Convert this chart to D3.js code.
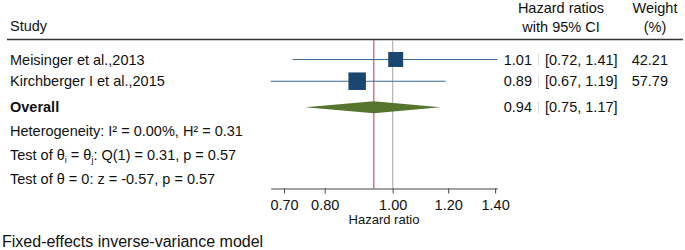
<!DOCTYPE html>
<html>
<head>
<meta charset="utf-8">
<script src="https://cdn.jsdelivr.net/npm/d3@7"></script>
<style>
  body { margin: 0; background: #fff; }
  text { font-family: "Liberation Sans", Arial, Helvetica, sans-serif; fill: #111; }
</style>
</head>
<body>
<div id="general"></div>
<script>
const w = 685, h = 250;

// data
const studies = ["Meisinger et al.,2013", "Kirchberger I et al.,2015"];
const hr = [1.01, 0.89];
const lo = [0.72, 0.67];
const hi = [1.41, 1.19];
const weights = [42.21, 57.79];
const overall = { hr: 0.94, lo: 0.75, hi: 1.17 };
const ticks = [0.7, 0.8, 1.0, 1.2, 1.4];
const stats = ["Heterogeneity: I² = 0.00%, H² = 0.31", "Q(1) = 0.31, p = 0.57", "Test of θ = 0: z = -0.57, p = 0.57"];

const fs = 14.5;
const colBlue = "#1a476f", colLine = "#3b6b98", colGreen = "#55752f", colRed = "#d9506a";

const svg = d3.select("#general").append("svg").attr("width", w).attr("height", h);

const x = d3.scaleLog().domain([0.67, 1.41]).range([270.7, 497.3]);
const y = d3.scaleLinear().domain([0, 1]).range([59.5, 81.2]);
const size = d3.scaleSqrt().domain([0, d3.max(weights)]).range([0, 17.5]);

const rows = studies.map((s, i) => ({ s, hr: hr[i], lo: lo[i], hi: hi[i], w: weights[i], i }));
const yOverall = y(2.2);
const axisY = 188.5;
const fmt = d3.format(".2f");

// header
svg.append("text").attr("x", 10).attr("y", 31).attr("font-size", fs).text("Study");
svg.append("text").attr("x", 561).attr("y", 13).attr("font-size", fs).attr("text-anchor", "middle").text("Hazard ratios");
svg.append("text").attr("x", 561).attr("y", 32).attr("font-size", fs).attr("text-anchor", "middle").text("with 95% CI");
svg.append("text").attr("x", 655).attr("y", 13).attr("font-size", fs).attr("text-anchor", "middle").text("Weight");
svg.append("text").attr("x", 655).attr("y", 32).attr("font-size", fs).attr("text-anchor", "middle").text("(%)");
svg.append("line").attr("x1", 7).attr("x2", 683).attr("y1", 39.5).attr("y2", 39.5)
  .attr("stroke", "#333").attr("stroke-width", 1.4);

// reference lines
svg.append("line").attr("x1", x(1)).attr("x2", x(1)).attr("y1", 40).attr("y2", axisY)
  .attr("stroke", "#b4b4b4").attr("stroke-width", 1.2);
svg.append("line").attr("x1", x(overall.hr)).attr("x2", x(overall.hr)).attr("y1", 40).attr("y2", axisY)
  .attr("stroke", colRed).attr("stroke-width", 1.2);

// study rows
const g = svg.selectAll("g.row").data(rows).join("g").attr("class", "row")
  .attr("transform", d => `translate(0,${y(d.i)})`);

g.append("text").attr("x", 10).attr("y", 5).attr("font-size", fs).text(d => d.s);
g.append("line").attr("x1", d => x(d.lo)).attr("x2", d => x(d.hi))
  .attr("stroke", colLine).attr("stroke-width", 1.1);
g.append("rect")
  .attr("x", d => x(d.hr) - size(d.w) / 2).attr("y", d => -size(d.w) / 2)
  .attr("width", d => size(d.w)).attr("height", d => size(d.w))
  .attr("fill", colBlue);
g.append("text").attr("x", 532).attr("y", 5).attr("font-size", fs).attr("text-anchor", "end")
  .text(d => fmt(d.hr));
g.append("text").attr("x", 545).attr("y", 5).attr("font-size", fs)
  .text(d => `[${fmt(d.lo)}, ${fmt(d.hi)}]`);
g.append("text").attr("x", 668).attr("y", 5).attr("font-size", fs).attr("text-anchor", "end")
  .text(d => fmt(d.w));
g.append("line").attr("x1", 538.5).attr("x2", 538.5).attr("y1", -6).attr("y2", 6)
  .attr("stroke", "#ddd");

// overall
svg.append("text").attr("x", 10).attr("y", yOverall + 5).attr("font-size", fs).attr("font-weight", "bold").text("Overall");
svg.append("path")
  .attr("d", `M${x(overall.lo)},${yOverall} L${x(overall.hr)},${yOverall - 6} L${x(overall.hi)},${yOverall} L${x(overall.hr)},${yOverall + 6} Z`)
  .attr("fill", colGreen);
svg.append("text").attr("x", 532).attr("y", yOverall + 5).attr("font-size", fs).attr("text-anchor", "end")
  .text(fmt(overall.hr));
svg.append("text").attr("x", 545).attr("y", yOverall + 5).attr("font-size", fs)
  .text(`[${fmt(overall.lo)}, ${fmt(overall.hi)}]`);
svg.append("line").attr("x1", 538.5).attr("x2", 538.5).attr("y1", yOverall - 6).attr("y2", yOverall + 6)
  .attr("stroke", "#ddd");

// stats
svg.append("text").attr("x", 10).attr("y", 136).attr("font-size", fs).text(stats[0]);
const t2 = svg.append("text").attr("x", 10).attr("y", 160).attr("font-size", fs);
t2.append("tspan").text("Test of θ");
t2.append("tspan").attr("font-size", 9).attr("dy", 3).text("i");
t2.append("tspan").attr("dy", -3).text(" = θ");
t2.append("tspan").attr("font-size", 9).attr("dy", 3).text("j");
t2.append("tspan").attr("dy", -3).text(": " + stats[1]);
svg.append("text").attr("x", 10).attr("y", 184).attr("font-size", fs).text(stats[2]);

// axis
const axis = svg.append("g").attr("transform", `translate(0,${axisY})`)
  .call(d3.axisBottom(x).tickValues(ticks).tickFormat(fmt).tickSize(5).tickSizeOuter(0));
axis.select(".domain").attr("stroke", "#444").attr("stroke-width", 1.2);
axis.selectAll(".tick line").attr("stroke", "#444");
axis.selectAll(".tick text").attr("font-size", 14.5).attr("font-family", "Liberation Sans, Arial, sans-serif").attr("fill", "#111").attr("dy", "0.9em");
svg.append("text").attr("x", (x.range()[0] + x.range()[1]) / 2).attr("y", 224).attr("font-size", 13)
  .attr("text-anchor", "middle").text("Hazard ratio");

svg.append("text").attr("x", 2).attr("y", 247).attr("font-size", 16)
  .text("Fixed-effects inverse-variance model");
</script>
</body>
</html>
